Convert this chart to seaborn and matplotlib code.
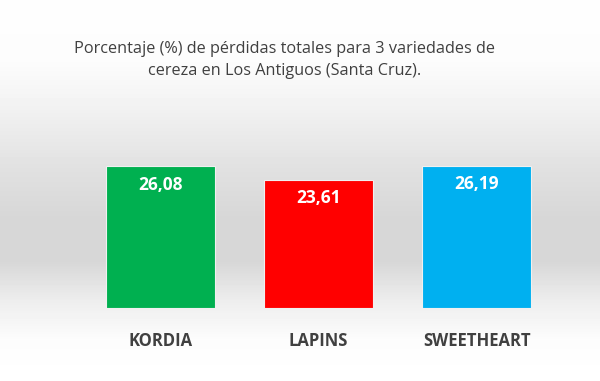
import matplotlib.pyplot as plt
import seaborn as sns
import pandas as pd
import numpy as np

sns.set_style("white")
plt.rcParams['font.family'] = ['Open Sans', 'DejaVu Sans']

# Data
variedades = ['KORDIA', 'LAPINS', 'SWEETHEART']
perdidas = [26.08, 23.61, 26.19]
colores = ['#00B050', '#FF0000', '#00B0F0']
titulo = "Porcentaje (%) de pérdidas totales para 3 variedades de\ncereza en Los Antiguos (Santa Cruz)."

df = pd.DataFrame({'variedad': variedades, 'perdida': perdidas})

fig = plt.figure(figsize=(6, 3.81), dpi=100)

# Background gradient (white -> grey -> white)
bg = fig.add_axes([0, 0, 1, 1], zorder=-1)
ys = np.arange(381)
stops_y = [0, 60, 100, 170, 220, 260, 300, 340, 381]
stops_v = [0.995, 0.99, 0.955, 0.88, 0.84, 0.84, 0.93, 0.99, 1.0]
grad = np.interp(ys, stops_y, stops_v)[:, None] * np.ones((1, 10))
bg.imshow(grad, aspect='auto', cmap='gray', vmin=0, vmax=1, extent=[0, 1, 0, 1])
bg.axis('off')

ax = fig.add_axes([0.136, 0.1916, 0.79, 0.428])
ax.patch.set_alpha(0)
sns.barplot(data=df, x='variedad', y='perdida', hue='variedad', palette=colores,
            legend=False, width=0.69, ax=ax, saturation=1,
            edgecolor='#f0f0f0', linewidth=0.8)

ax.set_xlim(-0.5, 2.5)
ax.set_ylim(0, 30)
ax.set_xlabel("")
ax.set_ylabel("")
ax.set_yticks([])
ax.tick_params(axis='x', length=0, pad=17, labelsize=12, labelcolor='#404040')
for lbl in ax.get_xticklabels():
    lbl.set_fontweight('bold')
sns.despine(ax=ax, left=True, bottom=True)

# Value labels inside bars
for i, v in enumerate(perdidas):
    ax.text(i, v - 1.8, f"{v:.2f}".replace('.', ','), ha='center', va='top',
            color='white', fontsize=12.5, fontweight='bold')

fig.text(0.475, 0.843, titulo, ha='center', va='center', fontsize=11.7,
         color='#404040', linespacing=1.45)

plt.savefig('out.png', dpi=100)
